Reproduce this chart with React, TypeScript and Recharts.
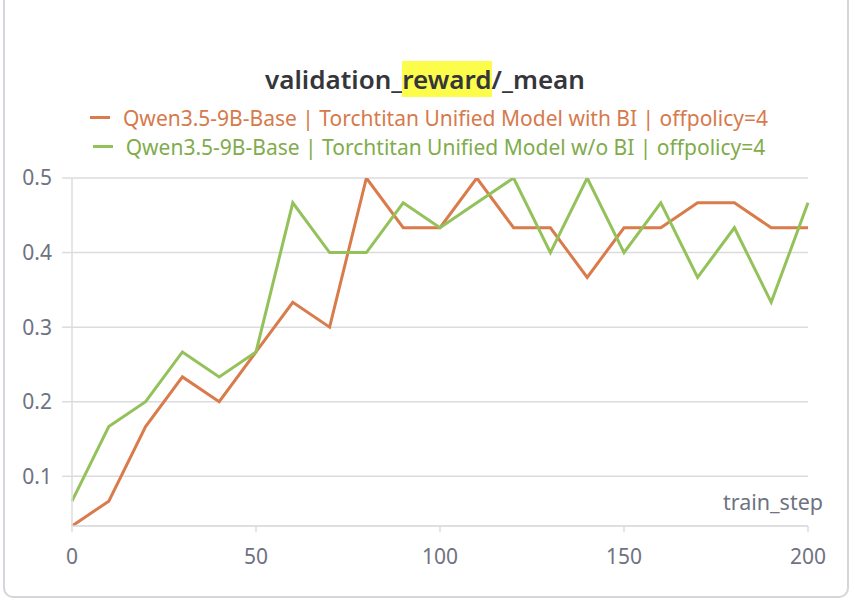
import React from 'react';
import { LineChart, Line, XAxis, YAxis, CartesianGrid } from 'recharts';

const steps = [0, 10, 20, 30, 40, 50, 60, 70, 80, 90, 100, 110, 120, 130, 140, 150, 160, 170, 180, 190, 200];
const withBI = [0.0333, 0.0667, 0.1667, 0.2333, 0.2, 0.2667, 0.3333, 0.3, 0.5, 0.4333, 0.4333, 0.5, 0.4333, 0.4333, 0.3667, 0.4333, 0.4333, 0.4667, 0.4667, 0.4333, 0.4333];
const withoutBI = [0.0667, 0.1667, 0.2, 0.2667, 0.2333, 0.2667, 0.4667, 0.4, 0.4, 0.4667, 0.4333, 0.4667, 0.5, 0.4, 0.5, 0.4, 0.4667, 0.3667, 0.4333, 0.3333, 0.4667];
const xTicks = [0, 50, 100, 150, 200];
const yTicks = [0.1, 0.2, 0.3, 0.4, 0.5];

const series = [
  { key: 'withBI', name: 'Qwen3.5-9B-Base | Torchtitan Unified Model with BI | offpolicy=4', color: '#d97b4a', text: '#d67a4c' },
  { key: 'withoutBI', name: 'Qwen3.5-9B-Base | Torchtitan Unified Model w/o BI | offpolicy=4', color: '#94c25a', text: '#80ac4c' },
];

const data = steps.map((s, i) => ({ step: s, withBI: withBI[i], withoutBI: withoutBI[i] }));

const FONT = '"Noto Sans", sans-serif';
const GRID = '#dcdce0';
const TICK = '#6e7281';

export default function App() {
  return (
    <div style={{ position: 'fixed', left: 0, top: 0, width: 858, height: 602, background: '#fff', fontFamily: FONT, overflow: 'hidden' }}>
      <div style={{ position: 'absolute', left: 3, top: -12, width: 842, height: 606, border: '2px solid #d5d5db', borderRadius: 10 }} />
      <div style={{ position: 'absolute', left: 0, top: 61, width: 850, textAlign: 'center', fontSize: 26, fontWeight: 600, color: '#35363b', lineHeight: '36px' }}>
        validation_<span style={{ background: '#fcfc4a' }}>reward</span>/_mean
      </div>
      <div style={{ position: 'absolute', left: 0, top: 103, width: 858, display: 'flex', flexDirection: 'column', alignItems: 'center' }}>
        {series.map((s) => (
          <div key={s.key} style={{ display: 'flex', alignItems: 'center', height: 29, fontSize: 21, color: s.text }}>
            <span style={{ display: 'inline-block', width: 20, height: 3.5, background: s.color, marginRight: 13 }} />
            {s.name}
          </div>
        ))}
      </div>
      <div style={{ position: 'absolute', left: 0, top: 0 }}>
        <LineChart width={858} height={602} data={data} margin={{ top: 178, right: 50, bottom: 36, left: 12 }}>
          <CartesianGrid vertical={false} stroke={GRID} strokeWidth={1.5} />
          <XAxis
            dataKey="step"
            type="number"
            domain={[0, 200]}
            ticks={xTicks}
            height={40}
            stroke={GRID}
            strokeWidth={1.5}
            tickSize={6}
            tickMargin={17}
            tick={{ fill: TICK, fontSize: 21, fontFamily: FONT }}
            label={{
              content: (props: any) => {
                const vb = props.viewBox;
                return (
                  <text x={vb.x + vb.width + 15} y={vb.y - 16} textAnchor="end" fill={TICK} fontSize={21.5} fontFamily={FONT}>
                    train_step
                  </text>
                );
              },
            }}
          />
          <YAxis
            type="number"
            domain={[1 / 30, 0.5]}
            ticks={yTicks}
            width={60}
            stroke={GRID}
            strokeWidth={1.5}
            tickSize={10}
            tickMargin={10}
            allowDataOverflow
            tickFormatter={(v: number) => v.toFixed(1)}
            tick={{ fill: TICK, fontSize: 21, fontFamily: FONT }}
          />
          {series.map((s) => (
            <Line key={s.key} type="linear" dataKey={s.key} name={s.name} stroke={s.color} strokeWidth={3} dot={false} isAnimationActive={false} />
          ))}
        </LineChart>
      </div>
    </div>
  );
}
